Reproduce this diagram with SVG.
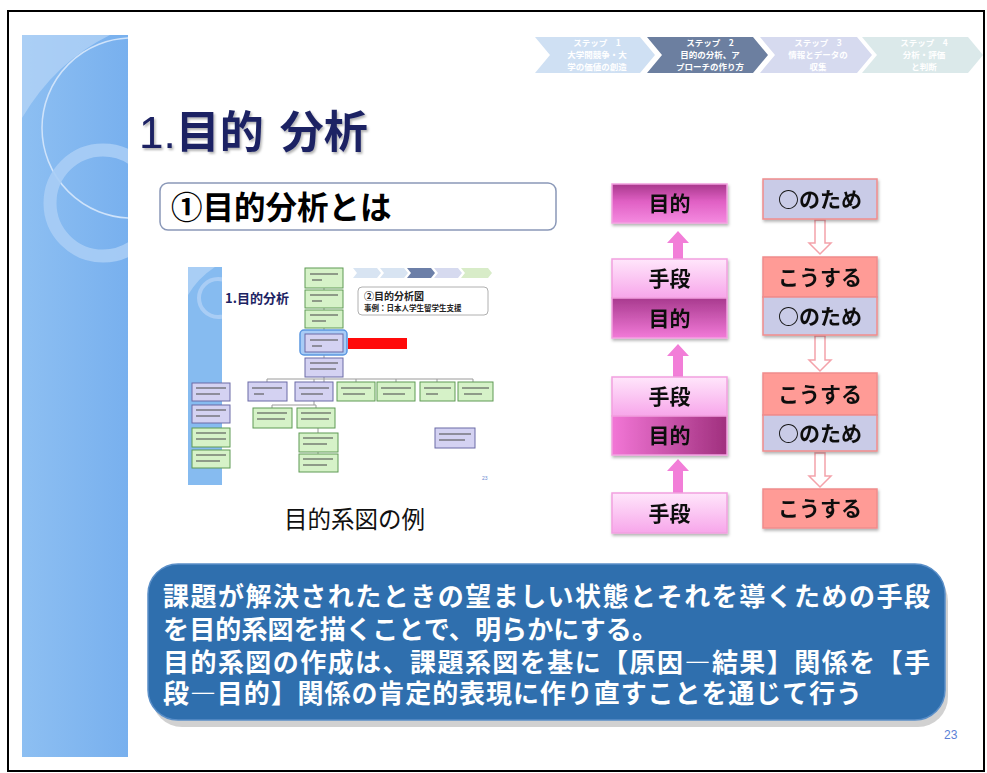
<svg xmlns="http://www.w3.org/2000/svg" width="987" height="773" viewBox="0 0 987 773">
<defs>
<style>
.jp{font-family:"Noto Sans CJK JP","Noto Sans",sans-serif}
.bx{stroke:#f2a0e0;stroke-width:1.5}
.sal{fill:#ff9b96;stroke:#f08c8c;stroke-width:1.5}
.lav{fill:#c9cbe7;stroke:#f08c8c;stroke-width:1.5}
.lbl{font-family:"Noto Sans CJK JP","Noto Sans",sans-serif;font-size:21px;font-weight:bold;fill:#111;text-anchor:middle}
.parr{fill:#f27ed8}
.darr{fill:#fff;stroke:#f4a2aa;stroke-width:1.5}
.tg{fill:#d6f2c8;stroke:#5f9a55;stroke-width:1}
.tl{fill:#d4d2f2;stroke:#6b6aa6;stroke-width:1}
.tx{fill:#555;opacity:.55}
.cl{stroke:#9a9a9a;stroke-width:1;fill:none}
.chv{font-family:"Noto Sans CJK JP","Noto Sans",sans-serif;font-size:8.5px;font-weight:bold;fill:#fff;text-anchor:middle}
</style>
<linearGradient id="band" x1="0" y1="0" x2="1" y2="0">
<stop offset="0" stop-color="#8dbff2"/><stop offset="1" stop-color="#78b0ee"/>
</linearGradient>
<linearGradient id="mk1" x1="0" y1="0" x2="0" y2="1">
<stop offset="0" stop-color="#a8388c"/><stop offset="0.45" stop-color="#e060c4"/><stop offset="1" stop-color="#f58ae0"/>
</linearGradient>
<linearGradient id="mk2" x1="0" y1="0" x2="0" y2="1">
<stop offset="0" stop-color="#a83a8e"/><stop offset="1" stop-color="#f27ad8"/>
</linearGradient>
<linearGradient id="mk3" x1="0" y1="0" x2="1" y2="0">
<stop offset="0" stop-color="#f276d6"/><stop offset="1" stop-color="#a0307e"/>
</linearGradient>
<linearGradient id="sd" x1="0" y1="0" x2="0" y2="1">
<stop offset="0" stop-color="#ffe6fb"/><stop offset="1" stop-color="#f7a6ea"/>
</linearGradient>
<filter id="sh" x="-10%" y="-10%" width="130%" height="140%">
<feDropShadow dx="1" dy="2" stdDeviation="1.5" flood-color="#000" flood-opacity="0.3"/>
</filter>
<filter id="tsh" x="-5%" y="-10%" width="115%" height="130%">
<feDropShadow dx="1.5" dy="2" stdDeviation="1.2" flood-color="#000" flood-opacity="0.3"/>
</filter>
<clipPath id="bandclip"><rect x="22" y="35" width="106" height="722"/></clipPath>
<clipPath id="tbclip"><rect x="188" y="267" width="34" height="218"/></clipPath>
</defs>

<rect x="0" y="0" width="987" height="773" fill="#fff"/>
<rect x="8" y="11" width="976" height="760" fill="#fff" stroke="#000" stroke-width="2"/>

<!-- left decorative band -->
<g id="band">
<rect x="22" y="35" width="106" height="722" fill="url(#band)"/>
<g clip-path="url(#bandclip)">
<path d="M22,35 L110,35 Q55,62 22,118 Z" fill="#b8d6f7" opacity="0.7"/>
<circle cx="132" cy="128" r="90" fill="none" stroke="#cfe3fa" stroke-width="1.5"/>
<circle cx="103" cy="203" r="53" fill="none" stroke="#a9cdf5" stroke-width="13" opacity="0.9"/>
</g>
</g>

<!-- step chevrons -->
<g id="steps">
<polygon points="535,37 640,37 655,55 640,73 535,73 550,55" fill="#cfe0f3"/>
<text class="chv" x="597" y="46">ステップ　1</text>
<text class="chv" x="597" y="58">大学間競争・大</text>
<text class="chv" x="597" y="70">学の価値の創造</text>
<polygon points="647,37 753,37 768,55 753,73 647,73 662,55" fill="#6c7fa0"/>
<text class="chv" x="710" y="46">ステップ　2</text>
<text class="chv" x="710" y="58">目的の分析、ア</text>
<text class="chv" x="710" y="70">プローチの作り方</text>
<polygon points="760,37 857,37 872,55 857,73 760,73 775,55" fill="#d6daef"/>
<text class="chv" x="818" y="46">ステップ　3</text>
<text class="chv" x="818" y="58">情報とデータの</text>
<text class="chv" x="818" y="70">収集</text>
<polygon points="862,37 968,37 983,55 968,73 862,73 877,55" fill="#dbe9ea"/>
<text class="chv" x="924" y="46">ステップ　4</text>
<text class="chv" x="924" y="58">分析・評価</text>
<text class="chv" x="924" y="70">と判断</text>
</g>

<!-- title -->
<g id="title" filter="url(#tsh)">
<text class="jp" x="139" y="148" font-size="44" fill="#1c2363"><tspan font-family="Liberation Sans, sans-serif" font-weight="normal">1.</tspan><tspan font-weight="bold">目的</tspan><tspan font-weight="bold" dx="16">分析</tspan></text>
</g>

<!-- subtitle box -->
<g id="subtitle">
<rect x="160" y="183" width="396" height="47" rx="8" fill="#fff" stroke="#8a98b8" stroke-width="1.5"/>
<text class="jp" x="171" y="219" font-size="31.5" font-weight="bold" fill="#000">①目的分析とは</text>
</g>

<!-- thumbnail example -->
<g id="thumbnail">
<rect x="188" y="267" width="34" height="218" fill="#86bbf0"/>
<g clip-path="url(#tbclip)">
<path d="M188,267 L215,267 Q198,278 188,295 Z" fill="#b8d6f7" opacity="0.7"/>
<circle cx="218" cy="298" r="19" fill="none" stroke="#a9cdf5" stroke-width="4"/>
</g>
<polygon points="353,268 377,268 381,273 377,278 353,278 357,273" fill="#d8e4f2"/>
<polygon points="380,268 404,268 408,273 404,278 380,278 384,273" fill="#d8e4f2"/>
<polygon points="407,268 431,268 435,273 431,278 407,278 411,273" fill="#6c7fa8"/>
<polygon points="434,268 458,268 462,273 458,278 434,278 438,273" fill="#d6daef"/>
<polygon points="461,268 488,268 492,273 488,278 461,278 465,273" fill="#d8ecc8"/>
<text class="jp" x="225" y="303" font-size="13" font-weight="bold" fill="#1c2363">1.目的分析</text>
<rect x="358" y="287" width="130" height="28" rx="4" fill="#fff" stroke="#b0b0b0" stroke-width="1"/>
<text class="jp" x="364" y="300" font-size="10" font-weight="bold" fill="#222">②目的分析図</text>
<text class="jp" x="364" y="311" font-size="7.5" font-weight="bold" fill="#222">事例：日本人学生留学生支援</text>
<!-- connectors -->
<g id="thumb-connectors">
<path class="cl" d="M324,288 V290 M324,308 V310 M324,328 V333 M324,352 V358 M324,377 V382 M267,379 H473 M267,379 V382 M314,379 V382 M356,379 V382 M396,379 V382 M437,379 V382 M473,379 V382 M314,401 V405 H272 V408 M314,405 H316 V408 M318,428 V433 M318,452 V454"/>
</g>
<rect x="300" y="330" width="47" height="25" rx="4" fill="#a8ccf6" stroke="#5b96e0" stroke-width="1.5"/>
<rect class="tg" x="305" y="268" width="38" height="20"/>
<rect class="tg" x="305" y="290" width="38" height="18"/>
<rect class="tg" x="305" y="310" width="38" height="18"/>
<rect class="tl" x="305" y="334" width="38" height="18"/>
<rect x="348" y="338" width="59" height="11" fill="#ff0a0a"/>
<rect class="tl" x="305" y="358" width="38" height="19"/>
<rect class="tl" x="248" y="382" width="39" height="19"/>
<rect class="tl" x="295" y="382" width="38" height="19"/>
<rect class="tg" x="337" y="382" width="38" height="19"/>
<rect class="tg" x="377" y="382" width="38" height="19"/>
<rect class="tg" x="420" y="382" width="35" height="19"/>
<rect class="tg" x="458" y="382" width="35" height="19"/>
<rect class="tl" x="192" y="383" width="38" height="18"/>
<rect class="tl" x="192" y="405" width="38" height="18"/>
<rect class="tg" x="192" y="428" width="38" height="19"/>
<rect class="tg" x="192" y="450" width="38" height="18"/>
<rect class="tg" x="253" y="408" width="39" height="20"/>
<rect class="tg" x="297" y="408" width="38" height="20"/>
<rect class="tg" x="299" y="433" width="39" height="19"/>
<rect class="tg" x="299" y="454" width="39" height="18"/>
<rect class="tl" x="435" y="428" width="40" height="20"/>
<!-- blurred text marks -->
<g class="tx">
<rect x="310" y="273" width="28" height="2"/><rect x="312" y="279" width="10" height="2"/>
<rect x="310" y="294" width="28" height="2"/><rect x="312" y="300" width="10" height="2"/>
<rect x="310" y="314" width="28" height="2"/><rect x="312" y="320" width="14" height="2"/>
<rect x="310" y="339" width="28" height="2"/><rect x="312" y="345" width="10" height="2"/>
<rect x="310" y="362" width="28" height="2"/><rect x="310" y="368" width="26" height="2"/>
<rect x="252" y="387" width="30" height="2"/><rect x="254" y="393" width="10" height="2"/>
<rect x="299" y="387" width="30" height="2"/><rect x="301" y="393" width="22" height="2"/>
<rect x="341" y="387" width="30" height="2"/><rect x="343" y="393" width="22" height="2"/>
<rect x="381" y="387" width="30" height="2"/><rect x="383" y="393" width="22" height="2"/>
<rect x="424" y="387" width="27" height="2"/><rect x="426" y="393" width="12" height="2"/>
<rect x="462" y="387" width="27" height="2"/><rect x="464" y="393" width="18" height="2"/>
<rect x="196" y="387" width="30" height="2"/><rect x="196" y="393" width="24" height="2"/>
<rect x="196" y="409" width="30" height="2"/><rect x="196" y="415" width="24" height="2"/>
<rect x="196" y="432" width="30" height="2"/><rect x="196" y="438" width="30" height="2"/>
<rect x="196" y="454" width="30" height="2"/><rect x="196" y="460" width="24" height="2"/>
<rect x="257" y="412" width="30" height="2"/><rect x="257" y="418" width="28" height="2"/>
<rect x="301" y="412" width="30" height="2"/><rect x="301" y="418" width="28" height="2"/>
<rect x="303" y="437" width="30" height="2"/><rect x="303" y="443" width="24" height="2"/>
<rect x="303" y="458" width="30" height="2"/><rect x="303" y="464" width="24" height="2"/>
<rect x="439" y="433" width="32" height="2"/><rect x="439" y="439" width="26" height="2"/>
</g>
<text x="482" y="480" font-family="Liberation Sans, sans-serif" font-size="5" fill="#6a8ad0">23</text>
</g>
<text id="caption" class="jp" x="284" y="528" font-size="23.5" fill="#111">目的系図の例</text>

<!-- connectors (arrows) -->
<g id="connectors">
<polygon class="parr" points="678,231 667,243 673,243 673,259 683,259 683,243 689,243"/>
<polygon class="parr" points="678,344 667,356 673,356 673,377 683,377 683,356 689,356"/>
<polygon class="parr" points="678,459 667,471 673,471 673,493 683,493 683,471 689,471"/>
<polygon class="darr" points="815,220 825,220 825,243 831,243 820,254 809,243 815,243"/>
<polygon class="darr" points="815,336 825,336 825,360 831,360 820,371 809,360 815,360"/>
<polygon class="darr" points="815,453 825,453 825,476 831,476 820,487 809,476 815,476"/>
</g>

<!-- left column: 手段/目的 -->
<g id="pm1" filter="url(#sh)">
<rect class="bx" x="612" y="184" width="115" height="39" fill="url(#mk1)"/>
<text class="lbl" x="669.5" y="211">目的</text>
</g>
<g id="pm2" filter="url(#sh)">
<rect class="bx" x="612" y="259" width="115" height="39" fill="url(#sd)"/>
<rect class="bx" x="612" y="298" width="115" height="40" fill="url(#mk2)"/>
<text class="lbl" x="669.5" y="286">手段</text>
<text class="lbl" x="669.5" y="326">目的</text>
</g>
<g id="pm3" filter="url(#sh)">
<rect class="bx" x="612" y="377" width="115" height="39" fill="url(#sd)"/>
<rect class="bx" x="612" y="416" width="115" height="39" fill="url(#mk3)"/>
<text class="lbl" x="669.5" y="404">手段</text>
<text class="lbl" x="669.5" y="443">目的</text>
</g>
<g id="pm4" filter="url(#sh)">
<rect class="bx" x="612" y="493" width="115" height="40" fill="url(#sd)"/>
<text class="lbl" x="669.5" y="521">手段</text>
</g>

<!-- right column: こうする/○のため -->
<g id="sr1" filter="url(#sh)">
<rect class="lav" x="763" y="179" width="114" height="40"/>
<text class="lbl" x="820" y="207">○のため</text>
</g>
<g id="sr2" filter="url(#sh)">
<rect class="sal" x="763" y="257" width="114" height="40"/>
<rect class="lav" x="763" y="297" width="114" height="38"/>
<text class="lbl" x="820" y="285">こうする</text>
<text class="lbl" x="820" y="324">○のため</text>
</g>
<g id="sr3" filter="url(#sh)">
<rect class="sal" x="763" y="373" width="114" height="42"/>
<rect class="lav" x="763" y="415" width="114" height="36"/>
<text class="lbl" x="820" y="402">こうする</text>
<text class="lbl" x="820" y="441">○のため</text>
</g>
<g id="sr4" filter="url(#sh)">
<rect class="sal" x="763" y="489" width="114" height="39"/>
<text class="lbl" x="820" y="516">こうする</text>
</g>

<!-- bottom summary box -->
<g id="summary">
<rect x="150" y="567" width="796" height="156" rx="30" fill="#000" opacity="0.18" transform="translate(2,4)"/>
<rect x="148" y="564" width="797" height="156" rx="30" fill="#2f6fae" stroke="#5b8fc8" stroke-width="1.5"/>
<g class="jp" font-size="26" font-weight="bold" fill="#fff">
<text x="163" y="606" textLength="767" lengthAdjust="spacing">課題が解決されたときの望ましい状態とそれを導くための手段</text>
<text x="163" y="639" textLength="495" lengthAdjust="spacing">を目的系図を描くことで、明らかにする。</text>
<text x="163" y="672" textLength="767" lengthAdjust="spacing">目的系図の作成は、課題系図を基に【原因―結果】関係を【手</text>
<text x="163" y="703" textLength="699" lengthAdjust="spacing">段―目的】関係の肯定的表現に作り直すことを通じて行う</text>
</g>
</g>

<text id="page" x="944" y="739" font-family="Liberation Sans, sans-serif" font-size="12" fill="#5a7fd6">23</text>
</svg>
